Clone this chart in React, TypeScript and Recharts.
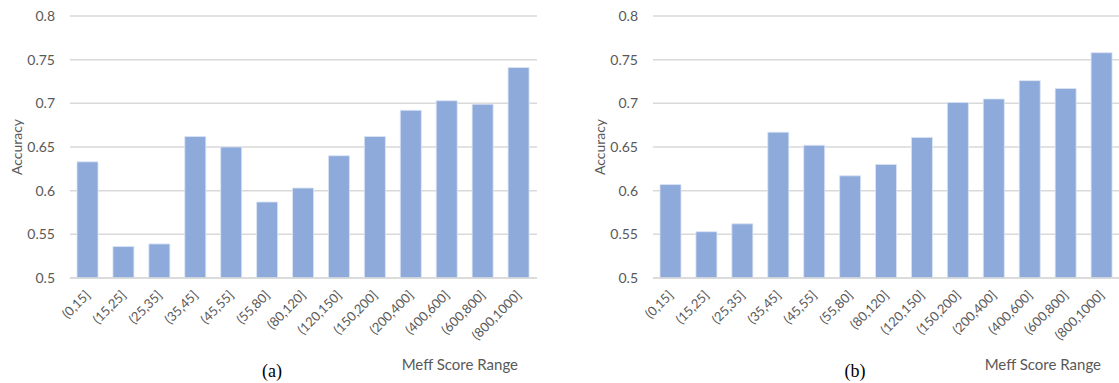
import React from 'react';
import { BarChart, Bar, XAxis, YAxis, CartesianGrid, Label } from 'recharts';

const scoreRanges = [
  '(0,15]', '(15,25]', '(25,35]', '(35,45]', '(45,55]', '(55,80]', '(80,120]',
  '(120,150]', '(150,200]', '(200,400]', '(400,600]', '(600,800]', '(800,1000]',
];

const accuracyA = [0.633, 0.536, 0.539, 0.662, 0.65, 0.587, 0.603, 0.64, 0.662, 0.692, 0.703, 0.699, 0.741];
const accuracyB = [0.607, 0.553, 0.562, 0.667, 0.652, 0.617, 0.63, 0.661, 0.701, 0.705, 0.726, 0.717, 0.758];

const yTicks = [0.5, 0.55, 0.6, 0.65, 0.7, 0.75, 0.8];

const barColor = '#8eaadb';
const gridColor = '#d9d9d9';
const textColor = '#595959';
const font = 'Lato, "Open Sans", sans-serif';

const AngledTick = (props: any) => {
  const { x, y, payload } = props;
  return (
    <g transform={`translate(${x + 3},${y + 10})`}>
      <text
        x={0}
        y={0}
        textAnchor="end"
        transform="rotate(-45)"
        fontSize={13}
        fontFamily={font}
        fill={textColor}
      >
        {payload.value}
      </text>
    </g>
  );
};

interface PanelProps {
  values: number[];
  caption: string;
  captionX: number;
}

const Panel = ({ values, caption, captionX }: PanelProps) => {
  const data = scoreRanges.map((name, i) => ({ name, value: values[i] }));
  return (
    <BarChart width={540} height={383} data={data} margin={{ top: 16, right: 3, left: 0, bottom: 0 }}>
      <CartesianGrid vertical={false} stroke={gridColor} strokeWidth={1.5} />
      <XAxis
        dataKey="name"
        height={105}
        interval={0}
        tickLine={false}
        axisLine={{ stroke: gridColor, strokeWidth: 1.5 }}
        tick={<AngledTick />}
      >
        <Label
          content={({ viewBox }: any) => (
            <g>
              <text
                x={viewBox.x + viewBox.width - 19}
                y={viewBox.y + 92}
                textAnchor="end"
                fontSize={15}
                fontFamily={font}
                fill={textColor}
              >
                Meff Score Range
              </text>
              <text
                x={captionX}
                y={viewBox.y + 99}
                textAnchor="middle"
                fontSize={18}
                fontFamily='"Liberation Serif", "Times New Roman", serif'
                fill="#000"
              >
                {caption}
              </text>
            </g>
          )}
        />
      </XAxis>
      <YAxis
        width={70}
        domain={[0.5, 0.8]}
        ticks={yTicks}
        axisLine={false}
        tickLine={false}
        tickSize={0}
        tickMargin={15}
        tick={{ fontSize: 14, fontFamily: font, fill: textColor }}
      >
        <Label
          value="Accuracy"
          angle={-90}
          position="insideLeft"
          offset={17}
          style={{ textAnchor: 'middle', fontSize: 14, fontFamily: font, fill: textColor }}
        />
      </YAxis>
      <Bar dataKey="value" fill={barColor} stroke="#dbe4f4" strokeWidth={0.8} barSize={21} isAnimationActive={false} />
    </BarChart>
  );
};

export default function App() {
  return (
    <div style={{ position: 'absolute', top: 0, left: 0, width: 1119, height: 383, overflow: 'hidden', background: '#fff' }}>
      <div style={{ position: 'absolute', top: 0, left: 0 }}>
        <Panel values={accuracyA} caption="(a)" captionX={272} />
      </div>
      <div style={{ position: 'absolute', top: 0, left: 583 }}>
        <Panel values={accuracyB} caption="(b)" captionX={272} />
      </div>
    </div>
  );
}
